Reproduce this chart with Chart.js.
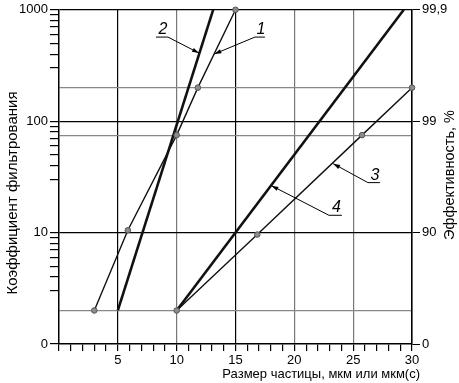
<!DOCTYPE html>
<html>
<head>
<meta charset="utf-8">
<script src="https://cdn.jsdelivr.net/npm/chart.js@4/dist/chart.umd.min.js"></script>
<style>
  html, body { margin: 0; padding: 0; background: #fff; }
</style>
</head>
<body>
<canvas id="chart" width="459" height="383"></canvas>
<script>
// Kurve 1 (dünn, mit Messpunkten)
const curve1X = [3, 5.85, 10, 11.8, 15]
const curve1Y = [2, 10.5, 75, 200, 1000]
// Kurve 2 (dick, ohne Punkte)
const curve2X = [5, 13.1]
const curve2Y = [2, 1000]
// Kurve 3 (dünn, mit Messpunkten)
const curve3X = [10, 16.85, 25.75, 30]
const curve3Y = [2, 9.6, 75, 200]
// Kurve 4 (dick, ohne Punkte)
const curve4X = [10, 29.3]
const curve4Y = [2, 1000]

// Achsen
const xLabelTicks = [5, 10, 15, 20, 25, 30]
const xDarkLines = [5, 15, 30]
const xGreyLines = [10, 20, 25]
const yTicks = [1, 10, 100, 1000]
const yTickLabels = ['0', '10', '100', '1000']
const effLabels = ['0', '90', '99', '99,9']
const yMinorSteps = [3, 4, 5, 6, 7, 8, 9]
const extraLines = [2, 75, 200]

const xTitle = 'Размер частицы, мкм или мкм(с)'
const yTitle = 'Коэффициент фильтрования'
const y2Title = 'Эффективность, %'

// Beschriftung der Kurven: Unterstrich (Pfeilseite / andere Seite), Pfeilspitze
const curveNames = ['1', '2', '3', '4']
const nameAttachX = [16.65, 9.26, 26.25, 22.94]
const nameEndX = [17.5, 8.24, 27.27, 24.04]
const nameY = [569, 569, 28.1, 14.3]
const arrowX = [13.2, 11.9, 23.3, 18.05]
const arrowY = [401, 409, 41.6, 26.4]

const FONT = '"Liberation Sans", Arial, sans-serif'

function toPoints(xs, ys) {
  return xs.map((x, i) => ({ x: x, y: ys[i] }))
}

// Minor-Ticks der Log-Achse
const yAllTicks = []
yTicks.forEach((t, i) => {
  yAllTicks.push(t)
  if (i < yTicks.length - 1) yMinorSteps.forEach(s => yAllTicks.push(t * s))
})
extraLines.forEach(v => yAllTicks.push(v))
yAllTicks.sort((a, b) => a - b)

const lineDataset = (label, xs, ys, width, radius) => ({
  label: label,
  data: toPoints(xs, ys),
  showLine: true,
  borderColor: '#111',
  borderWidth: width,
  pointRadius: radius,
  pointBackgroundColor: '#8c8c8c',
  pointBorderColor: '#555',
  pointBorderWidth: 1,
  clip: false,
  tension: 0
})

const labelsPlugin = {
  id: 'beschriftung',
  afterDraw(chart) {
    const { ctx, scales: { x, y }, chartArea } = chart
    ctx.save()
    ctx.fillStyle = '#000'
    ctx.strokeStyle = '#000'

    // Achsentitel
    ctx.font = '13px ' + FONT
    ctx.textAlign = 'right'
    ctx.textBaseline = 'alphabetic'
    ctx.fillText(xTitle, chartArea.right + 8, 378)

    ctx.textAlign = 'center'
    ctx.textBaseline = 'middle'
    ctx.font = '15px ' + FONT
    ctx.save()
    ctx.translate(13, 193)
    ctx.rotate(-Math.PI / 2)
    ctx.fillText(yTitle, 0, 0)
    ctx.restore()

    ctx.font = '14.5px ' + FONT
    ctx.save()
    ctx.translate(450, 175)
    ctx.rotate(-Math.PI / 2)
    ctx.fillText(y2Title, 0, 0)
    ctx.restore()

    // Kurvennummern mit Pfeil
    ctx.lineWidth = 1
    ctx.font = 'italic 16px ' + FONT
    ctx.textBaseline = 'alphabetic'
    curveNames.forEach((name, i) => {
      const ax = x.getPixelForValue(nameAttachX[i])
      const ex = x.getPixelForValue(nameEndX[i])
      const ly = y.getPixelForValue(nameY[i])
      const tx = x.getPixelForValue(arrowX[i])
      const ty = y.getPixelForValue(arrowY[i])

      ctx.beginPath()
      ctx.moveTo(ex, ly)
      ctx.lineTo(ax, ly)
      ctx.lineTo(tx, ty)
      ctx.stroke()

      // Pfeilspitze
      const ang = Math.atan2(ty - ly, tx - ax)
      const len = 7, half = 2.2
      ctx.beginPath()
      ctx.moveTo(tx, ty)
      ctx.lineTo(tx - len * Math.cos(ang) + half * Math.sin(ang), ty - len * Math.sin(ang) - half * Math.cos(ang))
      ctx.lineTo(tx - len * Math.cos(ang) - half * Math.sin(ang), ty - len * Math.sin(ang) + half * Math.cos(ang))
      ctx.closePath()
      ctx.fill()

      ctx.textAlign = 'center'
      ctx.fillText(name, (ax + ex) / 2 + 1, ly - 3)
    })
    ctx.restore()
  }
}

new Chart(document.getElementById('chart'), {
  type: 'scatter',
  data: {
    datasets: [
      lineDataset('1', curve1X, curve1Y, 1.4, 2.8),
      lineDataset('2', curve2X, curve2Y, 2.6, 0),
      lineDataset('3', curve3X, curve3Y, 1.4, 2.8),
      lineDataset('4', curve4X, curve4Y, 2.6, 0)
    ]
  },
  options: {
    responsive: false,
    animation: false,
    layout: { padding: { top: 9, left: 0, right: 0, bottom: 0 } },
    plugins: {
      legend: { display: false },
      tooltip: { enabled: false }
    },
    scales: {
      x: {
        type: 'linear',
        min: 0,
        max: 30,
        afterFit: s => { s.height = 39 },
        border: { color: '#000', width: 1.5 },
        grid: {
          color: c => {
            const v = c.tick && c.tick.value
            if (xDarkLines.includes(v)) return '#000'
            if (xGreyLines.includes(v)) return '#777'
            return 'rgba(0,0,0,0)'
          },
          lineWidth: 1.2,
          tickColor: '#000',
          tickLength: 7,
          drawTicks: true
        },
        ticks: {
          stepSize: 1,
          autoSkip: false,
          maxRotation: 0,
          padding: 2,
          color: '#000',
          font: { family: FONT, size: 13 },
          callback: v => xLabelTicks.includes(v) ? String(v) : ''
        }
      },
      y: {
        type: 'logarithmic',
        position: 'left',
        min: 1,
        max: 1000,
        afterFit: s => { s.width = 59 },
        afterBuildTicks: s => { s.ticks = yAllTicks.map(v => ({ value: v })) },
        border: { color: '#000', width: 1.5 },
        grid: {
          color: c => {
            const v = c.tick && c.tick.value
            if (v === 10 || v === 100 || v === 1000) return '#000'
            if (extraLines.includes(v)) return '#888'
            return 'rgba(0,0,0,0)'
          },
          lineWidth: 1.2,
          tickColor: '#000',
          tickWidth: c => (c.tick && extraLines.includes(c.tick.value)) ? 0 : 1.2,
          tickLength: 9
        },
        ticks: {
          autoSkip: false,
          padding: 2,
          color: '#000',
          font: { family: FONT, size: 13 },
          callback: v => {
            const i = yTicks.indexOf(v)
            return i >= 0 ? yTickLabels[i] : ''
          }
        }
      },
      y2: {
        type: 'logarithmic',
        position: 'right',
        min: 1,
        max: 1000,
        afterFit: s => { s.width = 47 },
        afterBuildTicks: s => { s.ticks = yTicks.map(v => ({ value: v })) },
        border: { color: '#000', width: 1.5 },
        grid: {
          drawOnChartArea: false,
          tickColor: '#000',
          tickLength: 8
        },
        ticks: {
          autoSkip: false,
          padding: 2,
          color: '#000',
          font: { family: FONT, size: 13 },
          callback: v => {
            const i = yTicks.indexOf(v)
            return i >= 0 ? effLabels[i] : ''
          }
        }
      }
    }
  },
  plugins: [labelsPlugin]
})
</script>
</body>
</html>
